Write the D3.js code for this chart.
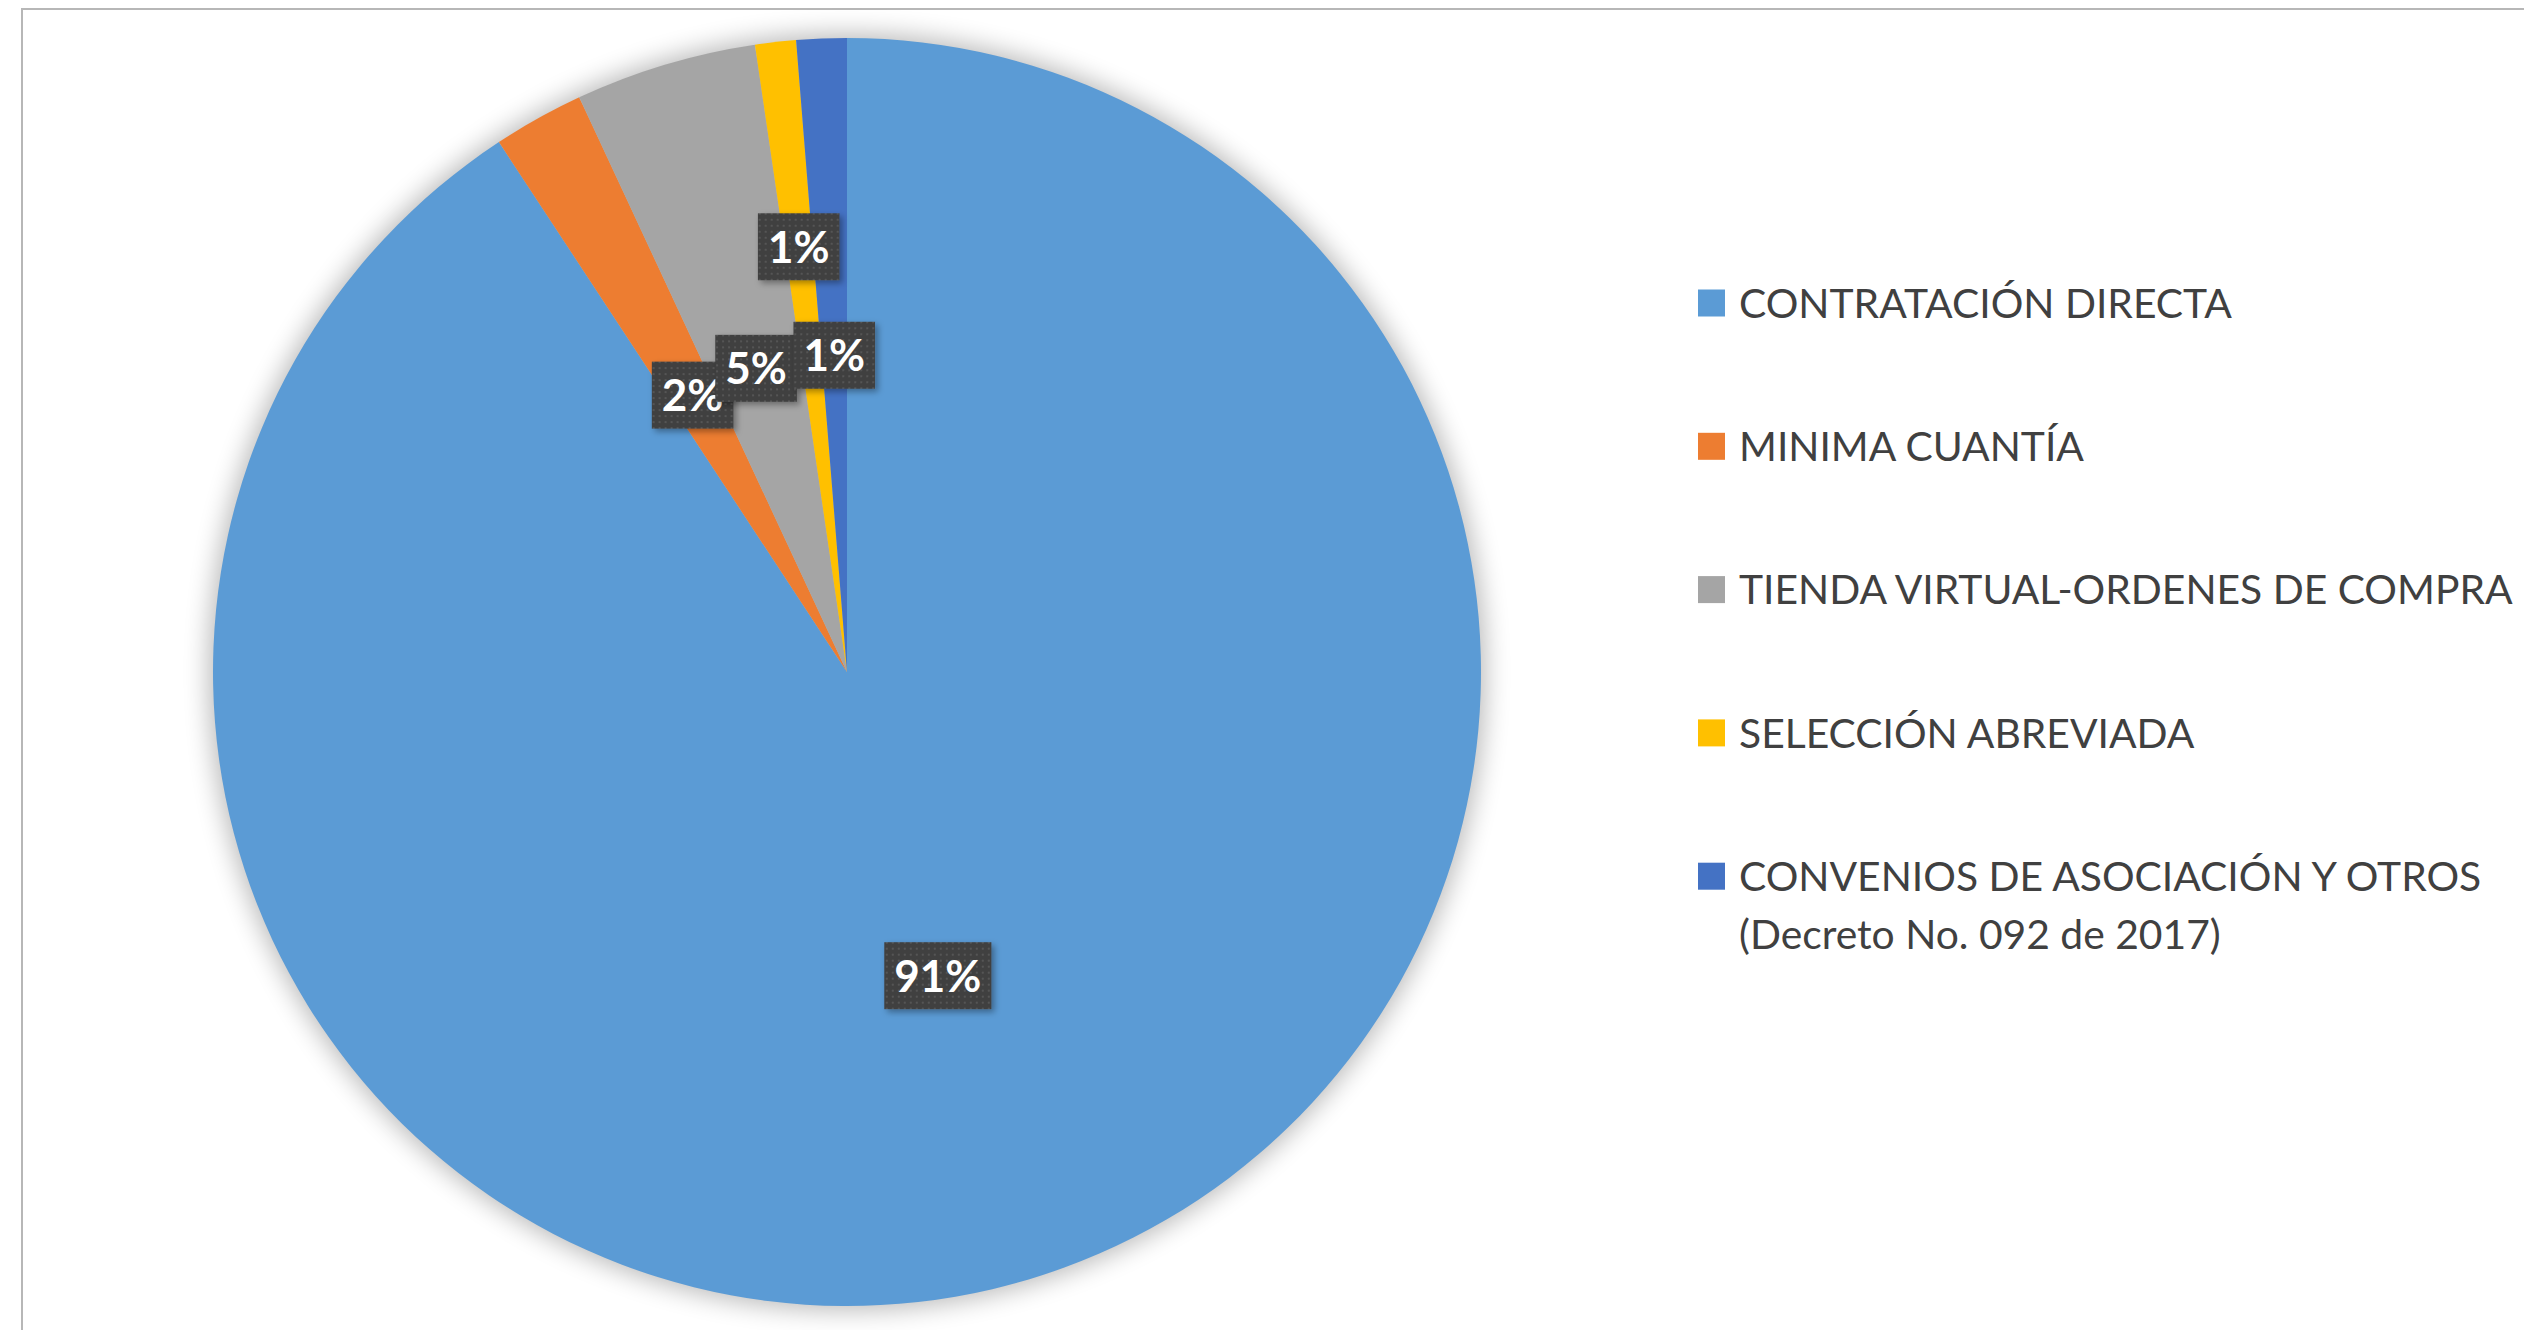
<!DOCTYPE html>
<html>
<head>
<meta charset="utf-8">
<script src="https://cdn.jsdelivr.net/npm/d3@7"></script>
<style>
  body { margin: 0; background: #fff; }
  svg { display: block; }
</style>
</head>
<body>
<div id="chart"></div>
<script>
      // data
      var categories = ["CONTRATACIÓN DIRECTA", "MINIMA CUANTÍA", "TIENDA VIRTUAL-ORDENES DE COMPRA",
                        "SELECCIÓN ABREVIADA", "CONVENIOS DE ASOCIACIÓN Y OTROS (Decreto No. 092 de 2017)"];
      var values = [90.75, 2.31, 4.62, 1.04, 1.28];
      var colors = ["#5B9BD5", "#ED7D31", "#A5A5A5", "#FFC000", "#4472C4"];

      var width = 2524, height = 1330;
      var cx = 847, cy = 672, radius = 634;

      // where each data label sits, as a share of the radius (Excel pushed the yellow one out)
      var labelRadius = [0.5, 0.5, 0.5, 0.675, 0.5];

      var svg = d3.select("#chart").append("svg")
          .attr("width", width)
          .attr("height", height);

      var defs = svg.append("defs");

      var blur = defs.append("filter").attr("id", "pieShadow")
          .attr("x", "-20%").attr("y", "-20%").attr("width", "140%").attr("height", "140%");
      blur.append("feGaussianBlur").attr("stdDeviation", 13);

      var drop = defs.append("filter").attr("id", "boxShadow")
          .attr("x", "-30%").attr("y", "-30%").attr("width", "160%").attr("height", "160%");
      drop.append("feDropShadow").attr("dx", 3).attr("dy", 3).attr("stdDeviation", 3)
          .attr("flood-color", "#000").attr("flood-opacity", 0.35);

      var pat = defs.append("pattern").attr("id", "dots")
          .attr("width", 6).attr("height", 6).attr("patternUnits", "userSpaceOnUse");
      pat.append("rect").attr("width", 6).attr("height", 6).attr("fill", "#404040");
      pat.append("rect").attr("x", 2).attr("y", 2).attr("width", 2).attr("height", 2).attr("fill", "#555555");

      // frame
      svg.append("path")
          .attr("d", "M22," + height + "V9H" + width)
          .attr("fill", "none")
          .attr("stroke", "#b7b7b7")
          .attr("stroke-width", 2);

      var g = svg.append("g").attr("transform", "translate(" + cx + "," + cy + ")");

      // soft shadow round the pie
      g.append("circle")
          .attr("r", radius + 4)
          .attr("fill", "#000")
          .attr("opacity", 0.28)
          .attr("filter", "url(#pieShadow)");

      var pie = d3.pie().sort(null).value(function(d) { return d; });
      var arcs = pie(values);

      var arc = d3.arc().innerRadius(0).outerRadius(radius);

      g.selectAll(".slice")
          .data(arcs)
          .enter()
          .append("path")
          .attr("class", "slice")
          .attr("d", arc)
          .attr("fill", function(d, i) { return colors[i]; });

      // data labels
      var fontSize = 44;
      var labels = g.selectAll(".lbl")
          .data(arcs)
          .enter()
          .append("g")
          .attr("class", "lbl")
          .attr("transform", function(d, i) {
              var a = (d.startAngle + d.endAngle) / 2;
              var r = radius * labelRadius[i];
              return "translate(" + (r * Math.sin(a)) + "," + (-r * Math.cos(a)) + ")";
          });

      var texts = labels.append("text")
          .attr("text-anchor", "middle")
          .attr("dy", "0.36em")
          .attr("font-family", "Lato, 'Open Sans', sans-serif")
          .attr("font-weight", "bold")
          .attr("font-size", fontSize)
          .attr("fill", "#fff")
          .text(function(d) { return Math.round(d.value) + "%"; });

      labels.each(function() {
          var t = d3.select(this).select("text");
          var w = t.node().getBBox().width + 20;
          var h = 67;
          d3.select(this).insert("rect", "text")
              .attr("x", -w / 2).attr("y", -h / 2)
              .attr("width", w).attr("height", h)
              .attr("fill", "url(#dots)")
              .attr("filter", "url(#boxShadow)");
      });

      // legend
      var legendX = 1698, legendY = 303, rowGap = 143.3, lineGap = 58, swatch = 27;
      var legend = svg.append("g").attr("class", "legend");

      var rows = legend.selectAll(".row")
          .data(categories)
          .enter()
          .append("g")
          .attr("class", "row")
          .attr("transform", function(d, i) {
              return "translate(" + legendX + "," + (legendY + i * rowGap) + ")";
          });

      rows.append("rect")
          .attr("x", 0).attr("y", -swatch / 2)
          .attr("width", swatch).attr("height", swatch)
          .attr("fill", function(d, i) { return colors[i]; });

      rows.append("text")
          .attr("x", 41)
          .attr("y", 0)
          .attr("dy", "0.36em")
          .attr("font-family", "Lato, 'Open Sans', sans-serif")
          .attr("font-size", 40.8)
          .attr("fill", "#404040")
          .each(function(d) {
              var el = d3.select(this);
              var words = d.split(" ");
              var line = [];
              var tspan = el.append("tspan").attr("x", 41);
              words.forEach(function(w) {
                  line.push(w);
                  tspan.text(line.join(" "));
                  if (tspan.node().getComputedTextLength() > 820 && line.length > 1) {
                      line.pop();
                      tspan.text(line.join(" "));
                      line = [w];
                      tspan = el.append("tspan").attr("x", 41).attr("dy", lineGap).text(w);
                  }
              });
          });
</script>
</body>
</html>
